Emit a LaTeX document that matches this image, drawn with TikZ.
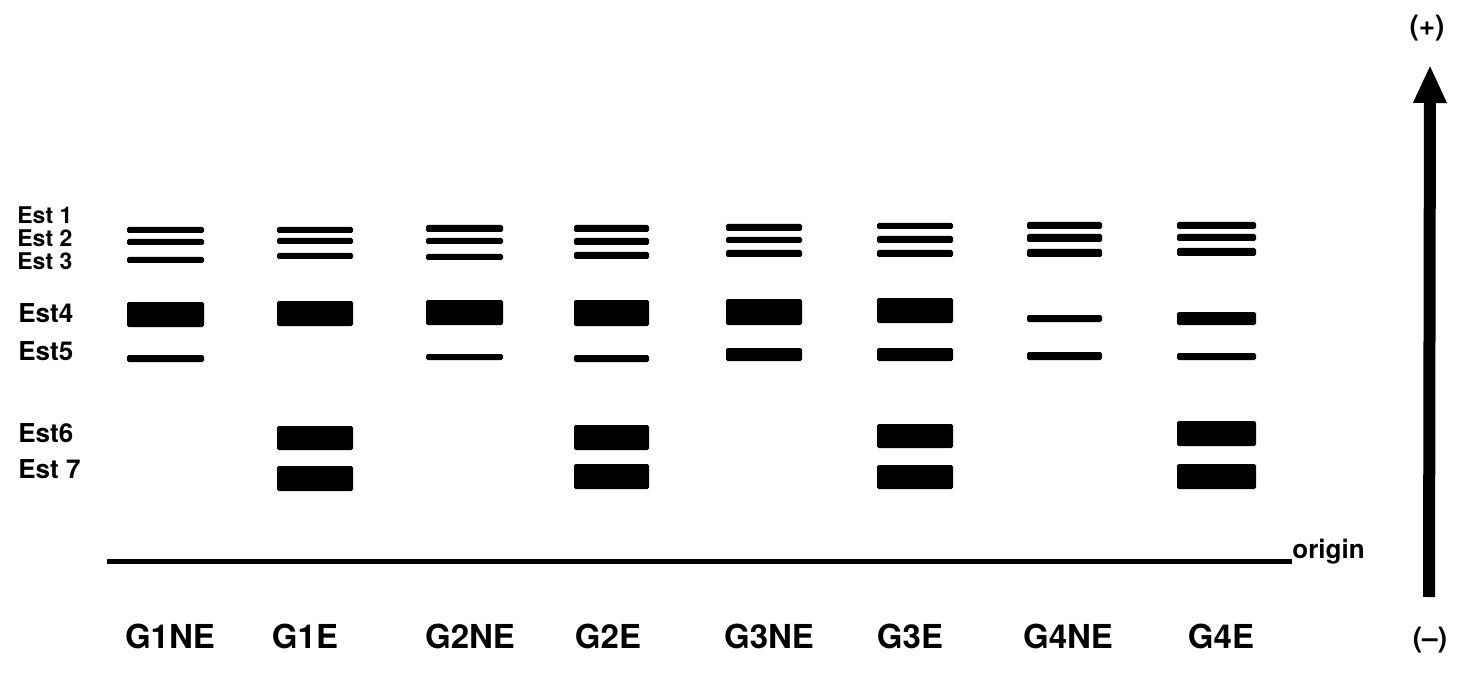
\documentclass[tikz,border=0pt]{standalone}
\usepackage{fontspec}
\setmainfont{TeX Gyre Heros}
\usetikzlibrary{arrows.meta}

\begin{document}
\begin{tikzpicture}
      [x = 0.5pt, y = -0.5pt,
      band/.style = {
         fill = black,
         rounded corners = 0.8pt
      },
      est/.style = {
         font = \bfseries\fontsize{13}{13}\selectfont,
         anchor = west,
         inner sep = 0pt
      },
      tight/.style = {
         est,
         font = \bfseries\fontsize{11.5}{11.5}\selectfont
      },
      lane/.style = {
         font = \bfseries\fontsize{16.5}{16.5}\selectfont,
         inner sep = 0pt
      },
      pole/.style = {
         font = \bfseries\fontsize{14}{14}\selectfont,
         inner sep = 0pt
      }]

      \useasboundingbox (0, 0) rectangle (1461, 695);

      % esterase names
      \node[tight] (est1) at (17, 215) {Est 1};
      \node[tight] (est2) at (17, 238) {Est 2};
      \node[tight] (est3) at (17, 261) {Est 3};
      \node[est] (est4) at (18, 313) {Est4};
      \node[est] (est5) at (18, 351) {Est5};
      \node[est] (est6) at (18, 433) {Est6};
      \node[est] (est7) at (18, 469) {Est 7};

      % bands, lane by lane
      \foreach \t/\b in {227/233, 239/245, 257/263, 302/327, 355/362}
         \fill[band] (127, \t) rectangle (204, \b);
      \foreach \t/\b in {227/233, 238/244, 253/259, 301/326, 426/450, 466/491}
         \fill[band] (277, \t) rectangle (353, \b);
      \foreach \t/\b in {225/232, 238/244, 254/260, 300/325, 354/360}
         \fill[band] (426, \t) rectangle (503, \b);
      \foreach \t/\b in {225/232, 238/245, 252/259, 300/326, 355/362, 425/450, 464/489}
         \fill[band] (574, \t) rectangle (649, \b);
      \foreach \t/\b in {224/231, 237/243, 250/257, 299/325, 348/361}
         \fill[band] (726, \t) rectangle (802, \b);
      \foreach \t/\b in {223/229, 236/243, 250/257, 298/323, 348/361, 424/448, 465/489}
         \fill[band] (877, \t) rectangle (953, \b);
      \foreach \t/\b in {222/229, 234/242, 249/257, 315/322, 352/360}
         \fill[band] (1027, \t) rectangle (1102, \b);
      \foreach \t/\b in {222/229, 234/241, 248/256, 312/325, 353/360, 421/446, 464/489}
         \fill[band] (1177, \t) rectangle (1256, \b);

      % origin line
      \node[font = \bfseries\fontsize{13}{13}\selectfont, anchor = base west,
         inner sep = 0pt] (orig) at (1292, 558) {origin};
      \coordinate (start) at (107, 561);
      \draw[line width = 2.5pt] (start) -- (start -| orig.west);

      % sample names
      \node[lane] (g1ne) at (170, 636) {G1NE};
      \node[lane] (g1e) at (305, 636) {G1E};
      \node[lane] (g2ne) at (470, 636) {G2NE};
      \node[lane] (g2e) at (608, 636) {G2E};
      \node[lane] (g3ne) at (769, 636) {G3NE};
      \node[lane] (g3e) at (910, 636) {G3E};
      \node[lane] (g4ne) at (1068, 636) {G4NE};
      \node[lane] (g4e) at (1221, 636) {G4E};

      % direction of migration
      \node[pole] (plus) at (1427, 28) {(+)};
      \node[pole] (minus) at (1430, 640) {(–)};
      \coordinate (tail) at (1429, 597);
      \coordinate (tip) at (1430, 65);
      \draw[line width = 6pt, -{Triangle[length = 19pt, width = 15.5pt]}]
         (tail) -- (tip);

   \end{tikzpicture}
\end{document}
